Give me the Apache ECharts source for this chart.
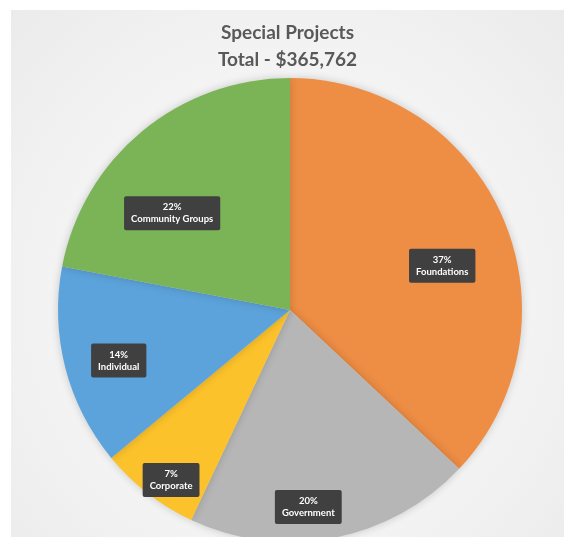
<!DOCTYPE html>
<html>
<head>
<meta charset="utf-8">
<script src="https://cdn.jsdelivr.net/npm/echarts@6/dist/echarts.min.js"></script>
<style>
    html, body { margin: 0; padding: 0; background: #ffffff; }
    #chart {
        position: absolute;
        left: 11px;
        top: 10px;
        width: 553px;
        height: 527px;
        background: radial-gradient(ellipse at 50% 55%, #fbfbfb 0%, #f3f3f3 60%, #ebebeb 100%);
    }
</style>
</head>
<body>
<div id="chart"></div>
<script>
// Chart data
const categories = ['Foundations', 'Government', 'Corporate', 'Individual', 'Community Groups'];
const shares = [37, 20, 7, 14, 22];
const sliceColors = ['#ee8d44', '#b6b6b6', '#fbc22b', '#5ca3db', '#7bb457'];
// small nudges so labels sit where the original placed them
const labelNudges = [[43, 3], [-4, 80], [-46, 76], [-56, 21], [-42, -5]];

document.addEventListener('DOMContentLoaded', function() {
    initializePie();
});

function initializePie() {
    const chartDom = document.getElementById('chart');
    const myChart = echarts.init(chartDom, null, { renderer: 'canvas' });

    const pieData = categories.map((name, i) => ({
        name: name,
        value: shares[i],
        itemStyle: { color: sliceColors[i] },
        label: { offset: labelNudges[i] }
    }));

    const option = {
        animation: false,
        title: {
            text: 'Special Projects\nTotal - $365,762',
            left: 'center',
            top: 4,
            textStyle: {
                fontFamily: 'Lato',
                fontWeight: 'bold',
                fontSize: 19,
                lineHeight: 27,
                color: '#595959'
            }
        },
        series: [{
            type: 'pie',
            center: [279, 300],
            radius: [0, 232],
            startAngle: 90,
            clockwise: true,
            data: pieData,
            itemStyle: {
                borderWidth: 0,
                shadowBlur: 8,
                shadowColor: 'rgba(0, 0, 0, 0.18)'
            },
            label: {
                show: true,
                position: 'inside',
                formatter: '{c}%\n{b}',
                fontFamily: 'Lato',
                fontWeight: 'bold',
                fontSize: 9.5,
                lineHeight: 12,
                color: '#ffffff',
                backgroundColor: '#404040',
                borderRadius: 2,
                padding: [5, 7],
                align: 'center'
            },
            labelLine: { show: false },
            emphasis: { disabled: true }
        }]
    };

    myChart.setOption(option);
}
</script>
</body>
</html>
